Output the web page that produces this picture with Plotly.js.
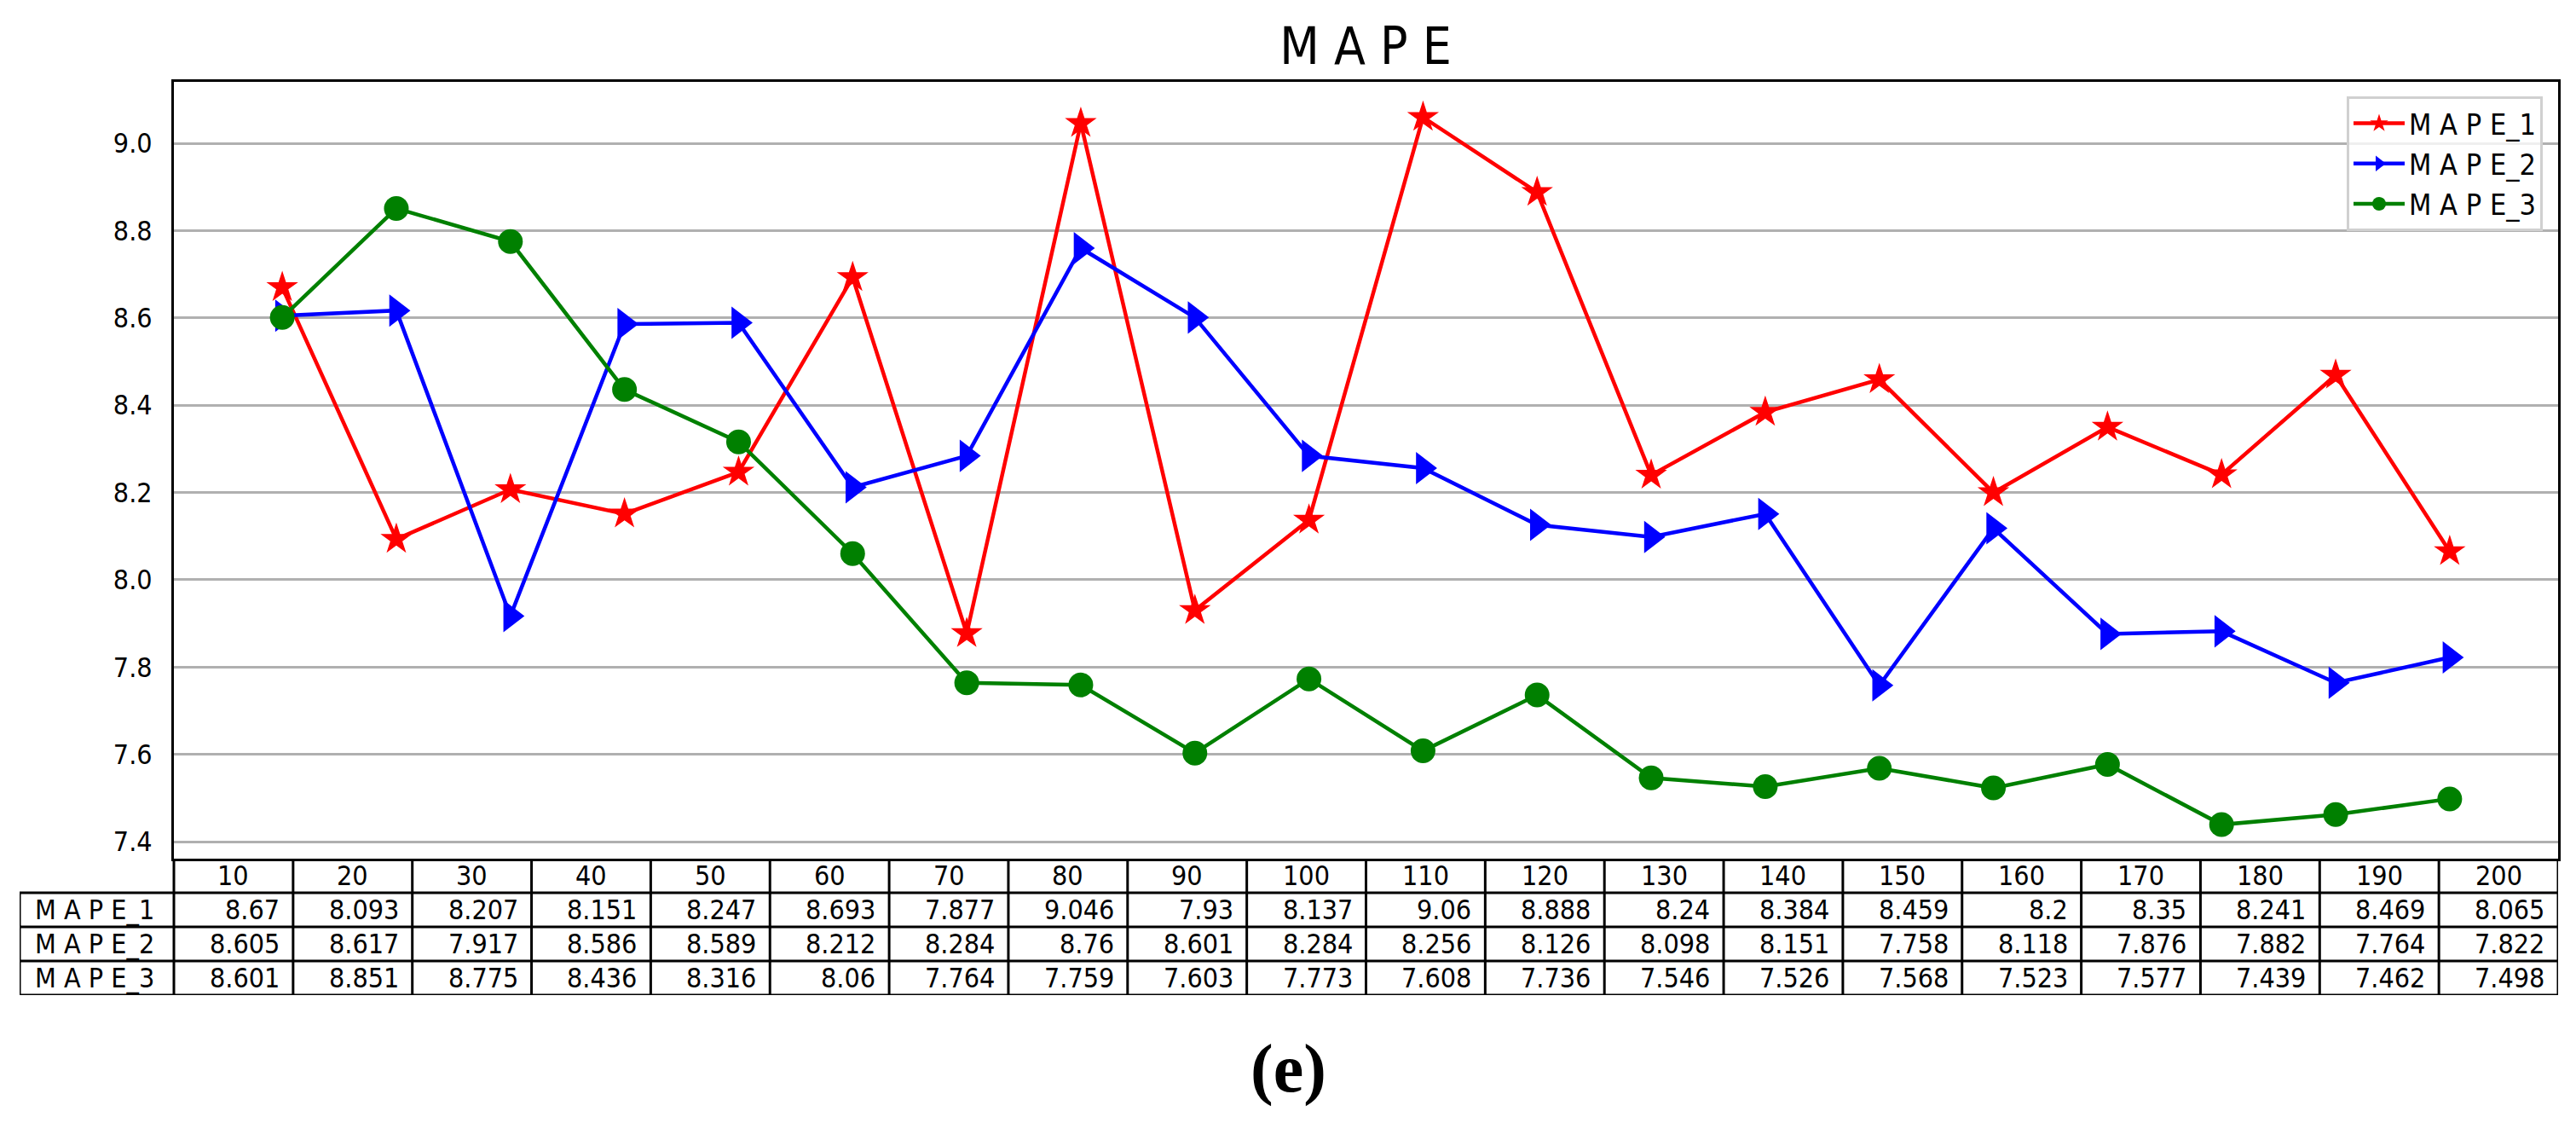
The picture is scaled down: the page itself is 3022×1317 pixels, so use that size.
<!DOCTYPE html>
<html>
<head>
<meta charset="utf-8">
<script src="https://cdn.plot.ly/plotly-3.0.1.min.js"></script>
<style>html,body{margin:0;padding:0;background:#fff;}#chart{width:3022px;height:1317px;}</style>
</head>
<body>
<div id="chart"></div>
<script>
const categories = ["10","20","30","40","50","60","70","80","90","100","110","120","130","140","150","160","170","180","190","200"];
const seriesNames = ["M A P E_1","M A P E_2","M A P E_3"];
const mape1 = [8.67, 8.093, 8.207, 8.151, 8.247, 8.693, 7.877, 9.046, 7.93, 8.137, 9.06, 8.888, 8.24, 8.384, 8.459, 8.2, 8.35, 8.241, 8.469, 8.065];
const mape2 = [8.605, 8.617, 7.917, 8.586, 8.589, 8.212, 8.284, 8.76, 8.601, 8.284, 8.256, 8.126, 8.098, 8.151, 7.758, 8.118, 7.876, 7.882, 7.764, 7.822];
const mape3 = [8.601, 8.851, 8.775, 8.436, 8.316, 8.06, 7.764, 7.759, 7.603, 7.773, 7.608, 7.736, 7.546, 7.526, 7.568, 7.523, 7.577, 7.439, 7.462, 7.498];
const yTicks = [7.4, 7.6, 7.8, 8.0, 8.2, 8.4, 8.6, 8.8, 9.0];

const FONT = "'DejaVu Sans Condensed', 'Liberation Sans Narrow', 'DejaVu Sans', sans-serif";
const colors = ["#ff0000", "#0000ff", "#008000"];
const symbols = ["star", "triangle-right", "circle"];
const msizes = [28, 33, 29];
const allSeries = [mape1, mape2, mape3];

const W = 3022, H = 1317;
const mL = 23, mR = 21, mT = 96, mB = 150;
const plotLeft = 204, plotBottom = 1007;
const pw = W - mL - mR, ph = H - mT - mB;

const idx = categories.map((c, i) => i);
const traces = allSeries.map((s, k) => ({
  type: "scatter", mode: "lines+markers",
  x: idx, y: s, name: seriesNames[k],
  line: {color: colors[k], width: 4.5},
  marker: {symbol: symbols[k], size: msizes[k], color: colors[k], line: {width: 0}},
  xaxis: "x", yaxis: "y"
}));

const colW = (W - mR - plotLeft) / categories.length;
const x2min = -0.5 - (plotLeft - mL) / colW;
const shapes = [];
const annotations = [];
const lineStyle = {color: "#000", width: 3};
[0, 1, 2, 3].forEach(r => shapes.push({type: "line", xref: "x2", yref: "y2", x0: x2min, x1: categories.length - 0.5, y0: r, y1: r, line: lineStyle}));
for (let i = 0; i <= categories.length; i++) {
  shapes.push({type: "line", xref: "x2", yref: "y2", x0: i - 0.5, x1: i - 0.5, y0: 0, y1: 4, line: lineStyle});
}
shapes.push({type: "line", xref: "x2", yref: "y2", x0: x2min, x1: x2min, y0: 0, y1: 3, line: lineStyle});

const tfont = {family: FONT, size: 32, color: "#000"};
categories.forEach((c, i) => annotations.push({xref: "x2", yref: "y2", x: i, y: 3.5, text: c, showarrow: false, xanchor: "center", yanchor: "middle", font: tfont}));
allSeries.forEach((s, k) => {
  const yy = 2.5 - k;
  annotations.push({xref: "x2", yref: "y2", x: x2min, y: yy, xshift: 16, text: seriesNames[k], showarrow: false, xanchor: "left", yanchor: "middle", font: tfont});
  s.forEach((v, i) => annotations.push({xref: "x2", yref: "y2", x: i + 0.5, y: yy, xshift: -14, text: String(v), showarrow: false, xanchor: "right", yanchor: "middle", font: tfont}));
});
annotations.push({xref: "paper", yref: "paper", x: (W / 2 - mL) / pw, y: (H - mB - 1253) / ph, text: "<b>(e)</b>", showarrow: false, xanchor: "center", yanchor: "middle", font: {family: "'Liberation Serif', 'Times New Roman', serif", size: 80, color: "#000"}});

const layout = {
  width: W, height: H,
  margin: {l: mL, r: mR, t: mT, b: mB, autoexpand: false},
  paper_bgcolor: "#fff", plot_bgcolor: "#fff",
  showlegend: true,
  title: {text: "M A P E", x: 1602 / W, xref: "container", xanchor: "center", y: 1 - 54 / H, yref: "container", yanchor: "middle", font: {family: FONT, size: 60, color: "#000"}},
  xaxis: {domain: [(plotLeft - mL) / pw, 1], range: [-0.95, categories.length - 1 + 0.95], showticklabels: false, showgrid: false, zeroline: false, showline: true, mirror: true, linecolor: "#000", linewidth: 3, ticks: ""},
  yaxis: {domain: [(H - mB - plotBottom) / ph, 1], range: [7.361, 9.141], tickvals: yTicks, ticktext: yTicks.map(v => v.toFixed(1)), showgrid: true, gridcolor: "#b0b0b0", gridwidth: 3, zeroline: false, showline: true, mirror: true, linecolor: "#000", linewidth: 3, ticks: "", ticklabelstandoff: 16, tickfont: {family: FONT, size: 32, color: "#000"}, automargin: false},
  xaxis2: {domain: [0, 1], range: [x2min, categories.length - 0.5], visible: false, anchor: "y2"},
  yaxis2: {domain: [0, (H - mB - plotBottom) / ph], range: [0, 4], visible: false, anchor: "x2"},
  legend: {x: (2983 - mL) / pw, xanchor: "right", y: 1 - (113 - mT) / ph, yanchor: "top", bgcolor: "rgba(255,255,255,0.8)", bordercolor: "#d0d0d0", borderwidth: 3, font: {family: FONT, size: 34, color: "#000"}, itemwidth: 60, tracegroupgap: 0},
  shapes: shapes,
  annotations: annotations
};
traces.push({type: "scatter", x: [0], y: [0], xaxis: "x2", yaxis: "y2", mode: "markers", marker: {opacity: 0}, showlegend: false, hoverinfo: "skip"});

Plotly.newPlot("chart", traces, layout, {staticPlot: true});
</script>
</body>
</html>
